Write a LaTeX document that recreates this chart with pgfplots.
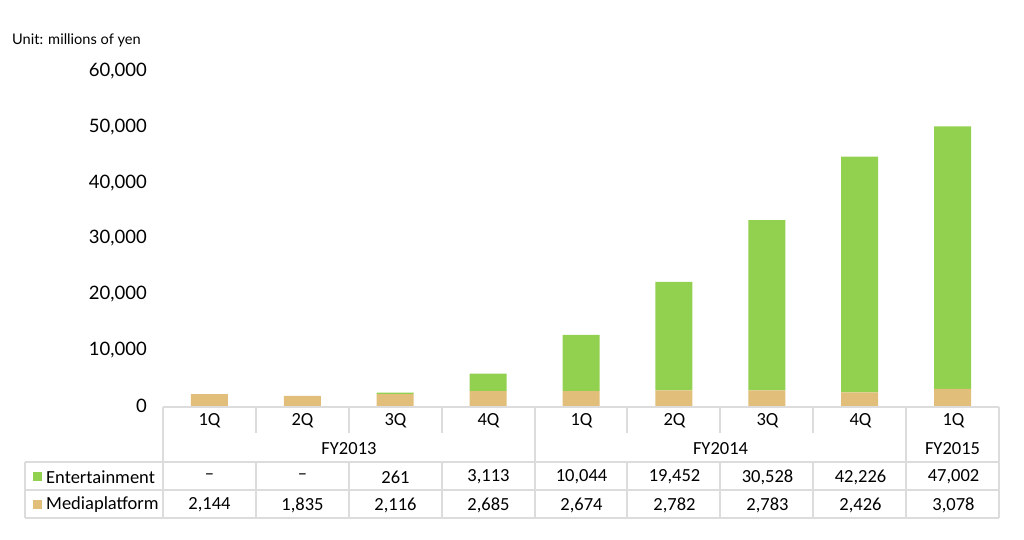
\documentclass[border=0pt]{standalone}
\usepackage{pgfplots}
\pgfplotsset{compat=1.18}
\usepackage{fontspec}
\setmainfont{Carlito}
\newfontfamily\gill{Lato}
\definecolor{ent}{RGB}{146,208,80}
\definecolor{med}{RGB}{225,191,122}
\definecolor{gridc}{RGB}{220,220,220}
\begin{document}
\begin{tikzpicture}
\useasboundingbox (0,0) rectangle (1024pt,539pt);
\begin{axis}[at={(163pt,133pt)}, anchor=south west, scale only axis,
  width=836pt, height=335pt, xmin=-0.5, xmax=8.5, ymin=0, ymax=60000,
  ybar stacked, bar width=37pt, hide x axis, axis y line*=left,
  y axis line style={draw=none}, ytick style={draw=none}, major tick length=0pt,
  ytick={0,10000,...,60000}, scaled y ticks=false,
  yticklabel style={font=\gill\fontsize{18.5pt}{20pt}\selectfont, anchor=east, inner sep=0pt, xshift=-16pt,
    /pgf/number format/.cd, 1000 sep={,}, assume math mode=true},
  clip=false]
\addplot[fill=med, draw=none] coordinates {(0,2144) (1,1835) (2,2116) (3,2685) (4,2674) (5,2782) (6,2783) (7,2426) (8,3078)};
\addplot[fill=ent, draw=none] coordinates {(0,0) (1,0) (2,261) (3,3113) (4,10044) (5,19452) (6,30528) (7,42226) (8,47002)};
\end{axis}
\begin{scope}[shift={(0pt,539pt)}, x=1pt, y=-1pt]
\node[anchor=west, inner sep=0pt, font=\gill\fontsize{14.6pt}{16pt}\selectfont] at (12,40) {Unit: millions of yen};
\begin{scope}[gridc, line width=1.5pt]
\draw (163,407) -- (999,407);
\draw (25,462) -- (999,462);
\draw (25,490) -- (999,490);
\draw (25,518) -- (999,518);
\draw (25,462) -- (25,518);
\foreach \x in {163,535,906,999} \draw (\x,407) -- (\x,518);
\foreach \x in {256,349,442,627,720,813} {\draw (\x,407) -- (\x,433); \draw (\x,462) -- (\x,518);}
\end{scope}
\begin{scope}[every node/.style={font=\fontsize{18.5pt}{20pt}\selectfont, inner sep=0pt}]
\foreach \q [count=\i from 0] in {1Q,2Q,3Q,4Q,1Q,2Q,3Q,4Q,1Q} \node at (209.5+93*\i,421) {\q};
\node at (349,449) {FY2013};
\node at (720.5,449) {FY2014};
\node at (952.5,449) {FY2015};
\foreach \v [count=\i from 0] in {--,--,261,{3,113},{10,044},{19,452},{30,528},{42,226},{47,002}} \node at (209.5+93*\i,477) {\v};
\foreach \v [count=\i from 0] in {{2,144},{1,835},{2,116},{2,685},{2,674},{2,782},{2,783},{2,426},{3,078}} \node at (209.5+93*\i,505) {\v};
\fill[ent] (33,472) rectangle (42,481);
\fill[med] (33,500) rectangle (42,509);
\node[anchor=west] at (46,477) {Entertainment};
\node[anchor=west] at (46,505) {Mediaplatform};
\end{scope}
\end{scope}
\end{tikzpicture}
\end{document}
